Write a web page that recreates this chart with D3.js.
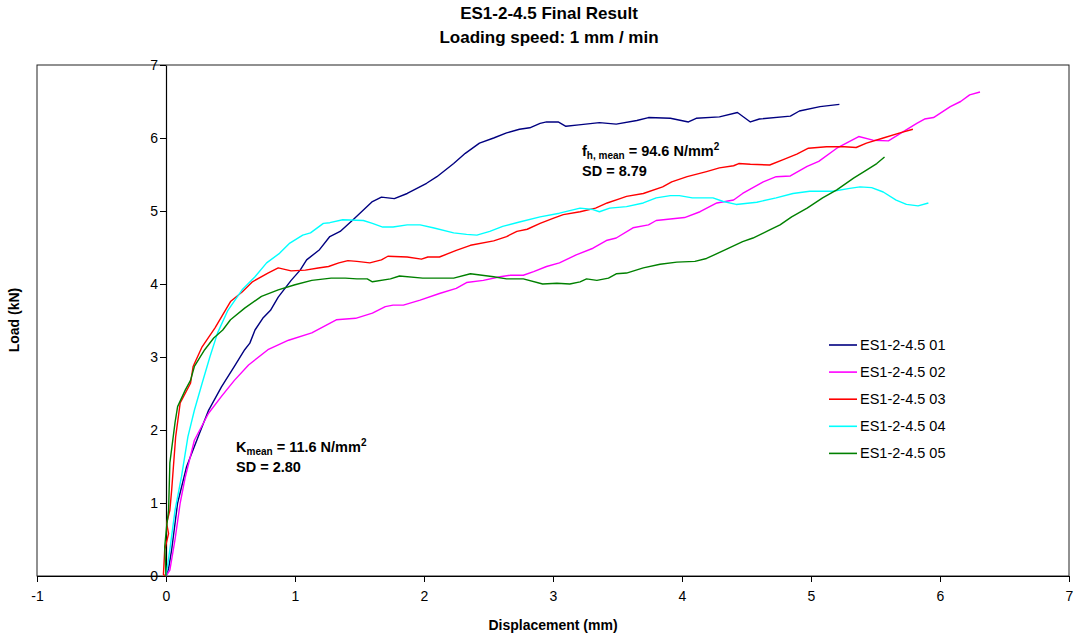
<!DOCTYPE html>
<html>
<head>
<meta charset="utf-8">
<script src="https://cdn.jsdelivr.net/npm/d3@7"></script>
<style>
  body { margin: 0; background: #fff; }
  svg text { font-family: Arial, "Liberation Sans", sans-serif; }
</style>
</head>
<body>
<div id="chart"></div>
<script>
// series names + colours
var seriesNames = ["ES1-2-4.5 01", "ES1-2-4.5 02", "ES1-2-4.5 03", "ES1-2-4.5 04", "ES1-2-4.5 05"];
var seriesColors = ["#000080", "#ff00ff", "#ff0000", "#00ffff", "#008000"];

// displacement (mm) / load (kN)
var disp01 = [0,0.02,0.044,0.09,0.16,0.25,0.33,0.43,0.53,0.61,0.65,0.69,0.75,0.81,0.87,0.97,1.04,1.09,1.19,1.27,1.35,1.45,1.6,1.67,1.77,1.87,2.02,2.1,2.23,2.32,2.43,2.54,2.64,2.74,2.82,2.9,2.95,3.04,3.1,3.2,3.36,3.49,3.65,3.74,3.91,4.05,4.11,4.29,4.43,4.53,4.6,4.84,4.91,5.07,5.22];
var load01 = [0,0.1,0.36,1.0,1.5,1.91,2.27,2.59,2.87,3.1,3.19,3.37,3.53,3.64,3.82,4.05,4.19,4.33,4.47,4.65,4.72,4.88,5.13,5.19,5.17,5.24,5.38,5.47,5.65,5.79,5.93,6.0,6.07,6.12,6.14,6.2,6.22,6.22,6.16,6.18,6.21,6.19,6.24,6.28,6.27,6.22,6.27,6.29,6.35,6.22,6.26,6.3,6.37,6.43,6.46];

var disp02 = [0,0.03,0.07,0.11,0.15,0.22,0.33,0.43,0.53,0.64,0.79,0.95,1.13,1.32,1.47,1.6,1.7,1.76,1.84,1.97,2.12,2.25,2.33,2.46,2.59,2.67,2.77,2.85,2.95,3.05,3.18,3.31,3.42,3.49,3.62,3.74,3.8,4.02,4.14,4.27,4.4,4.47,4.63,4.73,4.84,4.97,5.06,5.2,5.37,5.48,5.6,5.7,5.82,5.88,5.95,6.08,6.16,6.23,6.31];
var load02 = [0,0.08,0.5,1.0,1.36,1.86,2.23,2.46,2.68,2.89,3.1,3.23,3.33,3.51,3.53,3.6,3.69,3.71,3.71,3.78,3.87,3.94,4.02,4.05,4.1,4.12,4.12,4.17,4.24,4.29,4.4,4.49,4.6,4.63,4.77,4.81,4.87,4.91,4.99,5.11,5.15,5.24,5.4,5.47,5.48,5.61,5.68,5.86,6.02,5.97,5.96,6.07,6.2,6.26,6.28,6.43,6.5,6.59,6.63];

var disp03 = [0,-0.02,-0.01,0.02,0.005,0.03,0.044,0.075,0.11,0.19,0.21,0.28,0.38,0.46,0.5,0.59,0.67,0.79,0.87,0.97,1.08,1.18,1.26,1.34,1.41,1.48,1.58,1.67,1.72,1.87,1.98,2.03,2.12,2.25,2.36,2.54,2.64,2.72,2.8,2.9,3.0,3.08,3.21,3.33,3.42,3.52,3.57,3.7,3.85,3.92,4.04,4.19,4.29,4.4,4.44,4.53,4.68,4.78,4.89,4.98,5.12,5.26,5.35,5.43,5.56,5.69,5.79];
var load03 = [0,0.02,0.36,0.58,0.72,0.9,1.18,1.91,2.37,2.64,2.87,3.14,3.4,3.64,3.76,3.89,4.03,4.15,4.22,4.18,4.19,4.22,4.24,4.29,4.32,4.31,4.29,4.33,4.38,4.37,4.34,4.37,4.37,4.46,4.53,4.59,4.65,4.72,4.75,4.83,4.9,4.95,4.99,5.04,5.11,5.17,5.2,5.24,5.33,5.4,5.47,5.54,5.59,5.62,5.65,5.64,5.63,5.7,5.78,5.86,5.88,5.88,5.87,5.93,6.0,6.07,6.12];

var disp04 = [0,0.03,0.07,0.12,0.17,0.22,0.28,0.34,0.4,0.48,0.59,0.69,0.78,0.88,0.96,1.06,1.12,1.22,1.27,1.37,1.53,1.6,1.68,1.76,1.87,1.97,2.07,2.23,2.33,2.41,2.51,2.61,2.74,2.9,3.05,3.21,3.31,3.36,3.44,3.57,3.7,3.8,3.91,3.98,4.08,4.24,4.32,4.42,4.58,4.73,4.86,4.99,5.17,5.3,5.38,5.47,5.56,5.66,5.74,5.83,5.91];
var load04 = [0,0.36,0.9,1.36,1.91,2.27,2.64,3.0,3.33,3.64,3.92,4.1,4.29,4.42,4.56,4.67,4.7,4.83,4.84,4.88,4.87,4.83,4.78,4.78,4.81,4.81,4.77,4.7,4.68,4.67,4.72,4.79,4.85,4.92,4.97,5.04,5.02,4.99,5.04,5.06,5.11,5.18,5.21,5.21,5.18,5.18,5.13,5.09,5.12,5.18,5.24,5.27,5.27,5.31,5.33,5.32,5.26,5.15,5.09,5.07,5.11];

var disp05 = [0,-0.01,0.005,0.02,0.03,0.07,0.09,0.15,0.19,0.22,0.3,0.37,0.44,0.5,0.61,0.74,0.87,1.0,1.13,1.28,1.39,1.48,1.56,1.6,1.74,1.81,1.99,2.23,2.36,2.54,2.64,2.77,2.92,3.03,3.13,3.21,3.26,3.34,3.43,3.49,3.57,3.7,3.83,3.96,4.1,4.19,4.35,4.47,4.55,4.68,4.76,4.85,4.97,5.09,5.2,5.33,5.43,5.51,5.57];
var load05 = [0,0.4,0.68,0.9,1.55,2.1,2.32,2.55,2.68,2.87,3.1,3.26,3.37,3.51,3.67,3.83,3.92,3.99,4.05,4.08,4.08,4.07,4.07,4.03,4.07,4.11,4.08,4.08,4.14,4.1,4.07,4.07,4.0,4.01,4.0,4.03,4.07,4.05,4.08,4.14,4.15,4.22,4.27,4.3,4.31,4.35,4.48,4.58,4.63,4.74,4.81,4.92,5.04,5.18,5.29,5.45,5.56,5.65,5.74];

var xTicks = [-1, 0, 1, 2, 3, 4, 5, 6, 7];
var yTicks = [0, 1, 2, 3, 4, 5, 6, 7];

var svgWidth = 1077;
var svgHeight = 641;

var svg = d3.select("#chart")
.append("svg")
.attr("width", svgWidth)
.attr("height", svgHeight);

var xScale = d3.scaleLinear()
.domain([-1, 7])
.range([37, 1069]);

var yScale = d3.scaleLinear()
.domain([0, 7])
.range([576, 65]);

// plot area frame
svg.append("rect")
.attr("x", xScale(-1))
.attr("y", yScale(7))
.attr("width", xScale(7) - xScale(-1))
.attr("height", yScale(0) - yScale(7))
.attr("fill", "none")
.attr("stroke", "#222")
.attr("stroke-width", 1);

// axes cross at 0,0 (excel style), plain hyphen for the minus
var bottomAxis = d3.axisBottom(xScale).tickValues(xTicks).tickSize(6).tickSizeOuter(0).tickFormat(d => String(d));
var leftAxis = d3.axisLeft(yScale).tickValues(yTicks).tickSize(6).tickSizeOuter(0).tickFormat(d => String(d));

var gx = svg.append("g")
.attr("transform", `translate(0, ${yScale(0)})`)
.call(bottomAxis);

var gy = svg.append("g")
.attr("transform", `translate(${xScale(0)}, 0)`)
.call(leftAxis);

[gx, gy].forEach(function(g) {
  g.select(".domain").attr("stroke", "#000").attr("stroke-width", 1.2);
  g.selectAll(".tick line").attr("stroke", "#000");
  g.selectAll(".tick text")
  .attr("font-size", 14)
  .attr("font-family", "Arial, 'Liberation Sans', sans-serif")
  .attr("fill", "#000");
});
gx.selectAll(".tick text").attr("dy", "1.15em");
gy.selectAll(".tick text").attr("x", -8);

// curves
var allDisp = [disp01, disp02, disp03, disp04, disp05];
var allLoad = [load01, load02, load03, load04, load05];

var line = d3.line()
.x(d => xScale(d[0]))
.y(d => yScale(d[1]));

allDisp.forEach(function(xs, i) {
  var pts = xs.map((x, j) => [x, allLoad[i][j]]);
  svg.append("path")
  .datum(pts)
  .attr("d", line)
  .attr("fill", "none")
  .attr("stroke", seriesColors[i])
  .attr("stroke-width", 1.4)
  .attr("stroke-linejoin", "round");
});

// titles
svg.append("text")
.attr("x", 549).attr("y", 19)
.attr("text-anchor", "middle")
.attr("font-size", 17).attr("font-weight", "bold")
.text("ES1-2-4.5 Final Result");

svg.append("text")
.attr("x", 549).attr("y", 43)
.attr("text-anchor", "middle")
.attr("font-size", 17).attr("font-weight", "bold")
.text("Loading speed: 1 mm / min");

svg.append("text")
.attr("x", 553).attr("y", 630)
.attr("text-anchor", "middle")
.attr("font-size", 14).attr("font-weight", "bold")
.text("Displacement (mm)");

svg.append("text")
.attr("transform", "translate(19, 320) rotate(-90)")
.attr("text-anchor", "middle")
.attr("font-size", 14).attr("font-weight", "bold")
.text("Load (kN)");

// legend
var legend = svg.append("g").attr("transform", "translate(829, 345)");
seriesNames.forEach(function(name, i) {
  var row = legend.append("g").attr("transform", `translate(0, ${i * 27.1})`);
  row.append("line")
  .attr("x1", 0).attr("x2", 28).attr("y1", 0).attr("y2", 0)
  .attr("stroke", seriesColors[i]).attr("stroke-width", 1.6);
  row.append("text")
  .attr("x", 31).attr("y", 5)
  .attr("font-size", 14.5)
  .text(name);
});

// annotations
var kText = svg.append("text")
.attr("x", 236).attr("y", 452)
.attr("font-size", 14.5).attr("font-weight", "bold");
kText.append("tspan").text("K");
kText.append("tspan").attr("font-size", 10).attr("dy", 3).text("mean");
kText.append("tspan").attr("dy", -3).text(" = 11.6 N/mm");
kText.append("tspan").attr("font-size", 10).attr("dy", -6).text("2");

svg.append("text")
.attr("x", 236).attr("y", 472)
.attr("font-size", 14.5).attr("font-weight", "bold")
.text("SD = 2.80");

var fText = svg.append("text")
.attr("x", 582).attr("y", 156)
.attr("font-size", 14.5).attr("font-weight", "bold");
fText.append("tspan").text("f");
fText.append("tspan").attr("font-size", 10).attr("dy", 3).text("h, mean");
fText.append("tspan").attr("dy", -3).text(" = 94.6 N/mm");
fText.append("tspan").attr("font-size", 10).attr("dy", -6).text("2");

svg.append("text")
.attr("x", 582).attr("y", 176)
.attr("font-size", 14.5).attr("font-weight", "bold")
.text("SD = 8.79");
</script>
</body>
</html>
